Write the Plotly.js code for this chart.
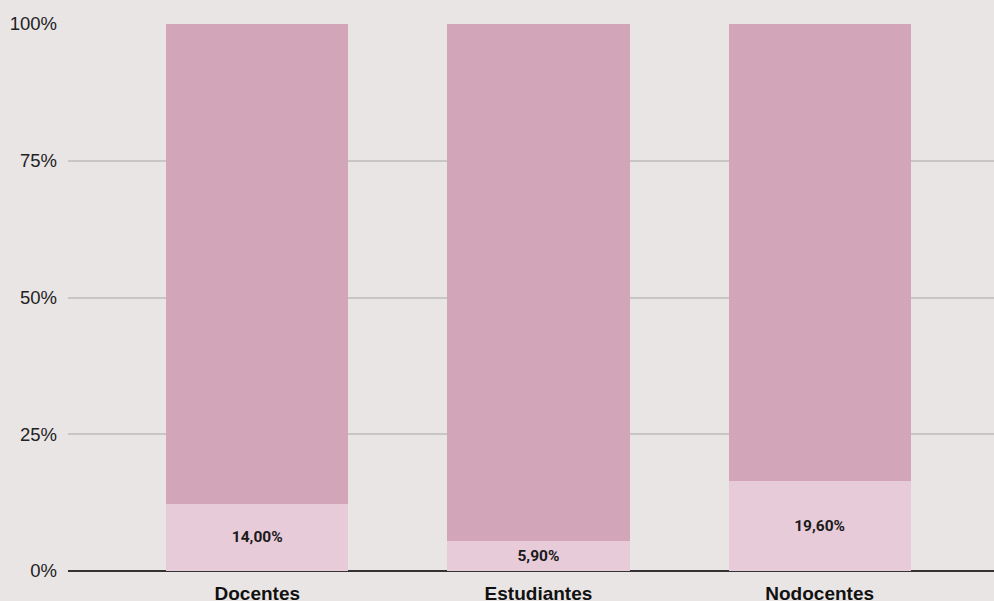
<!DOCTYPE html>
<html>
<head>
<meta charset="utf-8">
<script src="https://cdn.plot.ly/plotly-3.0.1.min.js"></script>
<style>html,body{margin:0;padding:0;background:#e9e5e4;}#chart{width:994px;height:601px;}</style>
</head>
<body>
<div id="chart"></div>
<script>
const categories = ['Docentes', 'Estudiantes', 'Nodocentes'];
const lowerValues = [14.0, 5.9, 19.6];
const upperValues = [100, 100, 100];
const yTickVals = [0, 25, 50, 75, 100];
const yTickText = ['0%', '25%', '50%', '75%', '100%'];

const traceLower = {
  type: 'bar', x: categories, y: lowerValues, customdata: lowerValues,
  marker: {color: '#e7cbd9'}, width: 0.648,
  texttemplate: '%{customdata:.2f}%', textposition: 'inside', insidetextanchor: 'middle',
  textfont: {family: 'Roboto', size: 15.5, color: '#1a1a1a', weight: 'bold'},
  hoverinfo: 'skip'
};
const traceUpper = {
  type: 'bar', x: categories, y: upperValues,
  marker: {color: '#d3a5b9'}, width: 0.648,
  textposition: 'none', hoverinfo: 'skip'
};

const layout = {
  width: 994, height: 601,
  barmode: 'stack', barnorm: 'percent',
  separators: ',.',
  paper_bgcolor: '#e9e5e4', plot_bgcolor: '#e9e5e4',
  margin: {l: 68, r: 0, t: 24, b: 30},
  showlegend: false,
  font: {family: 'Liberation Sans, Arial, sans-serif', color: '#222'},
  xaxis: {
    range: [-0.673, 2.62], showgrid: false, zeroline: false, showline: false,
    ticks: '', ticklabelstandoff: 9,
    tickfont: {family: 'Liberation Sans, Arial, sans-serif', size: 19, color: '#111', weight: 'bold'}
  },
  yaxis: {
    range: [0, 100], tickmode: 'array', tickvals: yTickVals, ticktext: yTickText,
    showgrid: true, gridcolor: '#c8c6c5', gridwidth: 2,
    zeroline: true, zerolinecolor: '#333', zerolinewidth: 2,
    tickfont: {family: 'Liberation Sans, Arial, sans-serif', size: 18.5, color: '#222'}, ticklabelstandoff: 10
  }
};

Plotly.newPlot('chart', [traceLower, traceUpper], layout, {displayModeBar: false, staticPlot: true});
</script>
</body>
</html>
